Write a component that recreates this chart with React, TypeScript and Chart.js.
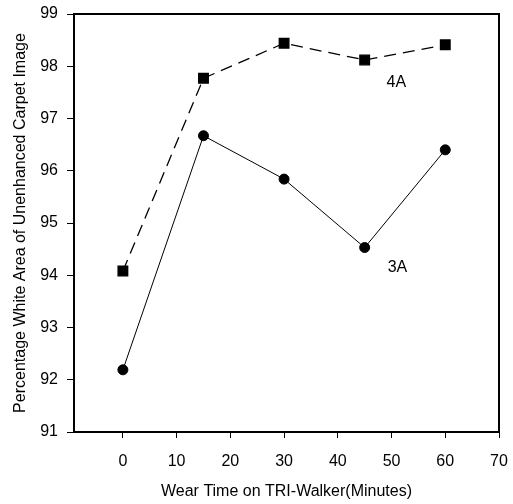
import React, { useEffect, useRef } from "react";
import { Chart, registerables } from "chart.js";

Chart.register(...registerables);

const wearTimes = [0, 15, 30, 45, 60];
const series4A = [94.08, 97.77, 98.44, 98.12, 98.41];
const series3A = [92.19, 96.67, 95.84, 94.53, 96.4];
const xTicks = [0, 10, 20, 30, 40, 50, 60, 70];
const seriesLabels = [
  { text: "4A", x: 50.9, y: 97.68 },
  { text: "3A", x: 51.1, y: 94.14 },
];

const FONT = "'Liberation Sans', Arial, sans-serif";

export default function App() {
  const ref = useRef<HTMLCanvasElement | null>(null);
  useEffect(() => {
    document.body.style.margin = "0";
    const ctx = ref.current!.getContext("2d")!;
    const boxPlugin = {
      id: "box",
      afterDraw(chart: any) {
        const { ctx, chartArea } = chart;
        ctx.save();
        ctx.strokeStyle = "#000";
        ctx.lineWidth = 2;
        ctx.strokeRect(chartArea.left, chartArea.top, chartArea.right - chartArea.left, chartArea.bottom - chartArea.top);
        ctx.font = `16px ${FONT}`;
        ctx.fillStyle = "#000";
        ctx.textAlign = "center";
        ctx.textBaseline = "middle";
        const xs = chart.scales.x, ys = chart.scales.y;
        seriesLabels.forEach((l) => {
          ctx.fillText(l.text, xs.getPixelForValue(l.x), ys.getPixelForValue(l.y));
        });
        ctx.restore();
      },
    };
    const zeroPad = (s: any) => {
      s.paddingTop = 0;
      s.paddingBottom = 0;
      s.paddingLeft = 0;
      s.paddingRight = 0;
    };
    const chart = new Chart(ctx, {
      type: "scatter",
      data: {
        datasets: [
          {
            label: "4A",
            data: wearTimes.map((t, i) => ({ x: t, y: series4A[i] })),
            showLine: true,
            borderColor: "#000",
            backgroundColor: "#000",
            borderWidth: 1.3,
            borderDash: [12, 7],
            pointStyle: "rect",
            pointRadius: 6.8,
            pointHoverRadius: 6.8,
          },
          {
            label: "3A",
            data: wearTimes.map((t, i) => ({ x: t, y: series3A[i] })),
            showLine: true,
            borderColor: "#000",
            backgroundColor: "#000",
            borderWidth: 1,
            pointStyle: "circle",
            pointRadius: 5,
            pointHoverRadius: 5,
          },
        ],
      },
      options: {
        animation: false,
        responsive: false,
        layout: { padding: { top: 14, right: 14, left: 0, bottom: 0 } },
        plugins: { legend: { display: false }, tooltip: { enabled: false } },
        scales: {
          x: {
            type: "linear",
            min: -9.1,
            max: 70,
            afterBuildTicks: (s: any) => {
              s.ticks = xTicks.map((v) => ({ value: v }));
            },
            afterFit: (s: any) => {
              s.height = 72;
              zeroPad(s);
            },
            grid: { drawOnChartArea: false, drawTicks: true, tickLength: 6, color: "#000", lineWidth: 1 },
            border: { display: true, color: "#000", width: 2 },
            ticks: { color: "#000", font: { family: FONT, size: 16 }, padding: 14, maxRotation: 0 },
            title: {
              display: true,
              text: "Wear Time on TRI-Walker(Minutes)",
              color: "#000",
              font: { family: FONT, size: 16 },
              padding: { top: 6, bottom: 2.5 },
            },
          },
          y: {
            min: 91,
            max: 99,
            afterFit: (s: any) => {
              s.width = 74;
              zeroPad(s);
            },
            grid: { drawOnChartArea: false, drawTicks: true, tickLength: 7, color: "#000", lineWidth: 1 },
            border: { display: true, color: "#000", width: 2 },
            ticks: { stepSize: 1, color: "#000", font: { family: FONT, size: 16 }, padding: 9 },
            title: {
              display: true,
              text: "Percentage White Area of Unenhanced Carpet Image",
              color: "#000",
              font: { family: FONT, size: 16 },
              padding: { top: 11, bottom: 4 },
            },
          },
        },
      },
      plugins: [boxPlugin],
    });
    return () => chart.destroy();
  }, []);
  return <canvas ref={ref} width={513} height={504} style={{ display: "block" }} />;
}
